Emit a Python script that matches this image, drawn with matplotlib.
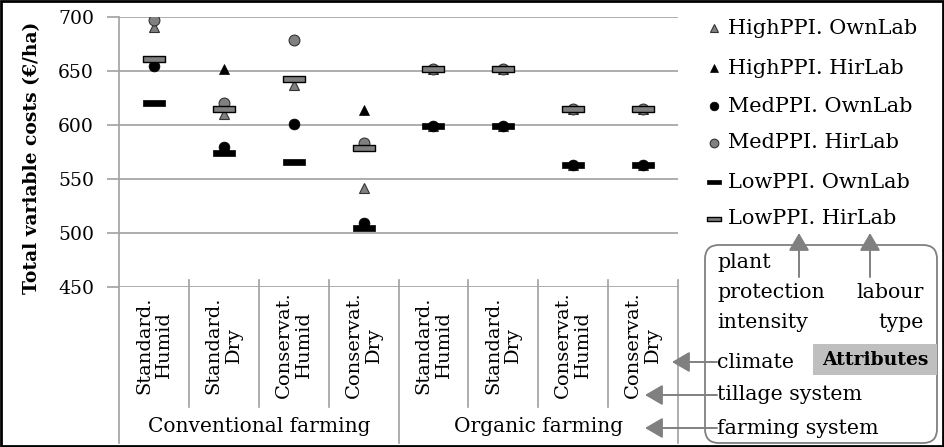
import matplotlib
matplotlib.use('Agg')
import matplotlib.pyplot as plt
from matplotlib.patches import FancyBboxPatch, Rectangle
from matplotlib.path import Path
import numpy as np

plt.rcParams['font.family'] = 'DejaVu Serif'

#### categories (tillage / climate / farming system) ####
tillage = ['Standard.', 'Standard.', 'Conservat.', 'Conservat.'] * 2
climate = ['Humid', 'Dry', 'Humid', 'Dry'] * 2
farming = ['Conventional farming', 'Organic farming']

#### total variable costs (EUR/ha) per scenario ####
high_own = [691, 610, 637, 542, 599, 599, 563, 563]
high_hir = [732, 652, 714, 614, 652, 652, 615, 615]
med_own = [655, 580, 601, 509, 599, 599, 563, 563]
med_hir = [697, 620, 679, 583, 652, 652, 615, 615]
low_own = [620, 574, 566, 505, 599, 599, 563, 563]
low_hir = [661, 615, 643, 579, 652, 652, 615, 615]

series_names = ['HighPPI. OwnLab', 'HighPPI. HirLab', 'MedPPI. OwnLab',
                'MedPPI. HirLab', 'LowPPI. OwnLab', 'LowPPI. HirLab']

grid_col = '#a0a0a0'
grey = '#808080'
bar = Path([(-1, -0.27), (1, -0.27), (1, 0.27), (-1, 0.27), (-1, -0.27)],
           [Path.MOVETO, Path.LINETO, Path.LINETO, Path.LINETO, Path.CLOSEPOLY])

styles = [
    dict(marker='^', ms=7.8, mfc=grey, mec='#333333', mew=0.8),
    dict(marker='^', ms=7.2, mfc='black', mec='black', mew=0.5),
    dict(marker='o', ms=7.8, mfc='black', mec='black', mew=0.5),
    dict(marker='o', ms=7.8, mfc=grey, mec='#333333', mew=0.8),
    dict(marker=bar, ms=16, mfc='black', mec='black', mew=0.5),
    dict(marker=bar, ms=16, mfc=grey, mec='black', mew=1.0),
]

W, H = 944, 447
fig = plt.figure(figsize=(W / 100, H / 100), dpi=100)
ax = fig.add_axes([119 / W, 1 - 287 / H, 559 / W, 270 / H])

x = np.arange(len(tillage))
for vals, st in zip([high_own, high_hir, med_own, med_hir, low_own, low_hir], styles):
    ax.plot(x, vals, ls='none', **st)

ax.set_xlim(-0.5, len(x) - 0.5)
ax.set_ylim(450, 700)
ax.set_yticks(np.arange(450, 701, 50))
ax.set_xticks([])
ax.yaxis.grid(True, color=grid_col, lw=1.2)
ax.set_axisbelow(True)
for s in ax.spines.values():
    s.set_visible(False)
ax.tick_params(axis='y', length=9, width=1.2, color=grid_col, labelsize=13.5, pad=9)

# category axis: separators and labels
tr = ax.get_xaxis_transform()
def fy(py):
    return (287 - py) / 270.0

ax.plot([-0.5, -0.5], [1, fy(443)], transform=tr, clip_on=False, color=grid_col, lw=1.2)
for xb in [3.5, 7.5]:
    ax.plot([xb, xb], [fy(280), fy(443)], transform=tr, clip_on=False, color=grid_col, lw=1.2)
for xb in [0.5, 1.5, 2.5, 4.5, 5.5, 6.5]:
    ax.plot([xb, xb], [fy(280), fy(407)], transform=tr, clip_on=False, color=grid_col, lw=1.2)
for i in x:
    ax.text(i, fy(345), tillage[i] + '\n' + climate[i], transform=tr, rotation=90,
            ha='center', va='center', multialignment='center', fontsize=14, linespacing=1.15)
for j, name in enumerate(farming):
    ax.text(1.5 + 4 * j, fy(427), name, transform=tr, ha='center', va='center', fontsize=14.5)

# overlay in pixel coordinates for legend and annotation box
ov = fig.add_axes([0, 0, 1, 1], zorder=5)
ov.set_xlim(0, W)
ov.set_ylim(H, 0)
ov.axis('off')
ov.patch.set_visible(False)

fig.text(32 / W, 1 - 158 / H, 'Total variable costs (€/ha)', rotation=90,
         ha='center', va='center', fontsize=13.5, fontweight='bold')

leg_y = [28, 68, 106, 143, 182, 219]
for name, st, ly in zip(series_names, styles, leg_y):
    st2 = dict(st)
    st2['ms'] = st['ms'] * (0.65 if st['marker'] is bar else 0.8)
    ov.plot([714], [ly], ls='none', **st2)
    ov.text(728, ly, name, ha='left', va='center', fontsize=15)

box = FancyBboxPatch((705, 245), 232, 198, boxstyle='round,pad=0,rounding_size=14',
                     fc='none', ec=grey, lw=1.3)
ov.add_patch(box)
ov.add_patch(Rectangle((813, 344), 124, 31, fc='#bfbfbf', ec='none'))
ov.text(875, 360, 'Attributes', ha='center', va='center', fontsize=13.5, fontweight='bold')

aprops = dict(arrowstyle='-|>,head_length=0.6,head_width=0.35', color=grey, lw=1.4,
              mutation_scale=18, shrinkA=0, shrinkB=0)
for ax_x in [799, 870]:
    ov.annotate('', xy=(ax_x, 233), xytext=(ax_x, 277), arrowprops=aprops)
for ly, tip in [(362, 672), (395, 645), (428, 645)]:
    ov.annotate('', xy=(tip, ly), xytext=(717, ly), arrowprops=aprops)

fs = 14.8
ov.text(717, 263, 'plant', ha='left', va='center', fontsize=fs)
ov.text(717, 293, 'protection', ha='left', va='center', fontsize=fs)
ov.text(717, 322, 'intensity', ha='left', va='center', fontsize=fs)
ov.text(924, 293, 'labour', ha='right', va='center', fontsize=fs)
ov.text(924, 322, 'type', ha='right', va='center', fontsize=fs)
ov.text(717, 362, 'climate', ha='left', va='center', fontsize=fs)
ov.text(717, 395, 'tillage system', ha='left', va='center', fontsize=fs)
ov.text(717, 428, 'farming system', ha='left', va='center', fontsize=fs)

ov.add_patch(Rectangle((1, 1), W - 2.5, H - 2.5, fc='none', ec='black', lw=2))

fig.savefig('out.png', dpi=100)
